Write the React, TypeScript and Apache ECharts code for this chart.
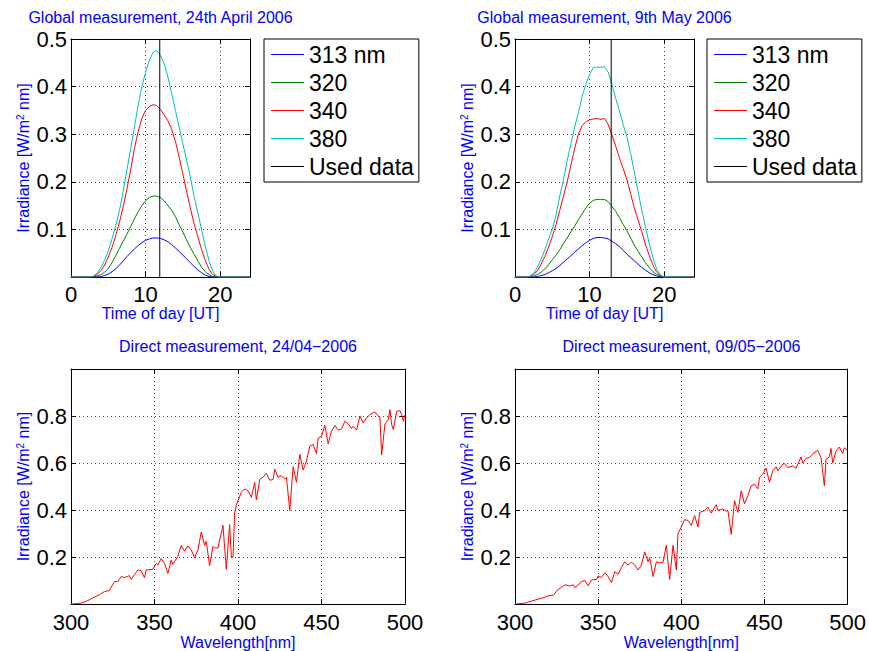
import { useEffect, useRef } from 'react';
import * as echarts from 'echarts';

const FONT = "'Liberation Sans', Arial, Helvetica, sans-serif";

// ---- Global measurement (time of day, hours UT) ----
const hours = [0, 0.5, 1, 1.5, 2, 2.5, 3, 3.5, 4, 4.5, 5, 5.5, 6, 6.5, 7, 7.5, 8, 8.5, 9, 9.5, 10, 10.5, 11, 11.5, 12, 12.5, 13, 13.5, 14, 14.5, 15, 15.5, 16, 16.5, 17, 17.5, 18, 18.5, 19, 19.5, 20, 20.5, 21, 21.5, 22, 22.5, 23, 23.5, 24];

const apr313 = [0, 0, 0, 0, 0, 0, 0, 0, 0.001, 0.003, 0.006, 0.011, 0.017, 0.025, 0.034, 0.043, 0.051, 0.059, 0.066, 0.072, 0.077, 0.08, 0.082, 0.082, 0.081, 0.078, 0.074, 0.068, 0.061, 0.054, 0.046, 0.038, 0.03, 0.022, 0.015, 0.009, 0.004, 0.001, 0, 0, 0, 0, 0, 0, 0, 0, 0, 0, 0];
const apr320 = [0, 0, 0, 0, 0, 0, 0, 0.002, 0.005, 0.01, 0.018, 0.03, 0.045, 0.06, 0.075, 0.09, 0.106, 0.122, 0.137, 0.15, 0.16, 0.167, 0.17, 0.17, 0.167, 0.16, 0.15, 0.14, 0.127, 0.11, 0.094, 0.078, 0.062, 0.048, 0.034, 0.021, 0.011, 0.005, 0.001, 0, 0, 0, 0, 0, 0, 0, 0, 0, 0];
const apr340 = [0, 0, 0, 0, 0, 0, 0.001, 0.005, 0.013, 0.025, 0.042, 0.062, 0.087, 0.115, 0.148, 0.185, 0.225, 0.27, 0.305, 0.333, 0.35, 0.358, 0.362, 0.36, 0.352, 0.34, 0.328, 0.31, 0.285, 0.252, 0.216, 0.18, 0.145, 0.112, 0.085, 0.058, 0.035, 0.016, 0.005, 0.001, 0, 0, 0, 0, 0, 0, 0, 0, 0];
const apr380 = [0, 0, 0, 0, 0, 0, 0.002, 0.008, 0.02, 0.035, 0.055, 0.08, 0.108, 0.14, 0.18, 0.225, 0.27, 0.315, 0.36, 0.4, 0.43, 0.455, 0.472, 0.476, 0.465, 0.448, 0.42, 0.385, 0.35, 0.315, 0.28, 0.245, 0.21, 0.17, 0.135, 0.1, 0.065, 0.035, 0.012, 0.002, 0, 0, 0, 0, 0, 0, 0, 0, 0];

const may313 = [0, 0, 0, 0, 0, 0, 0.001, 0.003, 0.005, 0.009, 0.013, 0.018, 0.024, 0.031, 0.038, 0.045, 0.052, 0.059, 0.066, 0.072, 0.077, 0.081, 0.083, 0.083, 0.082, 0.08, 0.075, 0.07, 0.064, 0.056, 0.048, 0.041, 0.034, 0.027, 0.02, 0.014, 0.009, 0.005, 0.002, 0.001, 0, 0, 0, 0, 0, 0, 0, 0, 0];
const may320 = [0, 0, 0, 0, 0, 0.002, 0.005, 0.01, 0.017, 0.026, 0.036, 0.046, 0.057, 0.07, 0.082, 0.095, 0.107, 0.12, 0.133, 0.145, 0.155, 0.161, 0.163, 0.163, 0.163, 0.158, 0.148, 0.138, 0.125, 0.11, 0.097, 0.082, 0.067, 0.054, 0.042, 0.03, 0.02, 0.011, 0.005, 0.002, 0, 0, 0, 0, 0, 0, 0, 0, 0];
const may340 = [0, 0, 0, 0, 0.001, 0.005, 0.013, 0.027, 0.043, 0.063, 0.085, 0.11, 0.14, 0.17, 0.2, 0.235, 0.27, 0.3, 0.318, 0.326, 0.33, 0.332, 0.333, 0.331, 0.333, 0.32, 0.298, 0.275, 0.25, 0.228, 0.205, 0.175, 0.145, 0.12, 0.095, 0.068, 0.045, 0.025, 0.01, 0.003, 0, 0, 0, 0, 0, 0, 0, 0, 0];
const may380 = [0, 0, 0, 0, 0.002, 0.008, 0.02, 0.038, 0.057, 0.08, 0.1, 0.13, 0.17, 0.205, 0.245, 0.28, 0.315, 0.345, 0.38, 0.405, 0.425, 0.44, 0.441, 0.44, 0.442, 0.43, 0.405, 0.375, 0.35, 0.32, 0.295, 0.26, 0.22, 0.18, 0.14, 0.105, 0.07, 0.04, 0.017, 0.004, 0, 0, 0, 0, 0, 0, 0, 0, 0];

const usedTimeApr = 11.9;
const usedTimeMay = 12.9;

const legendNames = ['313 nm', '320', '340', '380', 'Used data'];
const colors = ['#0000ff', '#008000', '#ff0000', '#00bfbf', '#000000'];

// ---- Direct measurement (wavelength, nm) ----
const aprWl = [300, 306, 310, 317, 320, 323, 326, 328, 330, 332, 335, 336, 340, 342, 344, 345, 349, 351, 352, 354, 356, 358, 360, 361, 364, 366, 368, 370, 372, 374, 376, 378, 380, 381, 383, 385, 386, 388, 391, 393, 395, 396, 397, 398, 399, 400, 402, 404, 406, 408, 410, 411, 413, 415, 417, 419, 421, 422, 424, 426, 428, 429, 431, 433, 435, 437, 439, 441, 443, 445, 447, 448, 450, 452, 454, 456, 458, 460, 462, 464, 466, 468, 469, 471, 473, 475, 477, 479, 482, 485, 486, 488, 490, 491, 492, 493, 495, 497, 498, 499, 500];
const aprIrr = [0, 0.004, 0.015, 0.04, 0.053, 0.058, 0.096, 0.096, 0.117, 0.113, 0.121, 0.105, 0.145, 0.142, 0.112, 0.145, 0.148, 0.173, 0.166, 0.194, 0.173, 0.13, 0.187, 0.169, 0.204, 0.25, 0.225, 0.248, 0.23, 0.198, 0.23, 0.307, 0.25, 0.267, 0.163, 0.246, 0.239, 0.239, 0.335, 0.148, 0.338, 0.2, 0.2, 0.39, 0.42, 0.44, 0.475, 0.49, 0.482, 0.454, 0.518, 0.443, 0.53, 0.54, 0.556, 0.527, 0.53, 0.574, 0.539, 0.546, 0.532, 0.539, 0.398, 0.584, 0.518, 0.637, 0.57, 0.609, 0.672, 0.679, 0.64, 0.705, 0.714, 0.761, 0.682, 0.736, 0.76, 0.74, 0.745, 0.778, 0.767, 0.747, 0.757, 0.74, 0.8, 0.771, 0.792, 0.806, 0.817, 0.792, 0.634, 0.766, 0.785, 0.827, 0.764, 0.742, 0.82, 0.823, 0.806, 0.778, 0.806];

const mayWl = [300, 306, 310, 316, 320, 323, 326, 328, 330, 333, 335, 336, 340, 342, 344, 346, 349, 350, 352, 354, 356, 358, 360, 362, 364, 366, 368, 370, 372, 374, 376, 378, 380, 381, 383, 385, 387, 389, 391, 393, 395, 397, 398, 400, 402, 404, 406, 408, 410, 411, 414, 416, 418, 421, 422, 425, 427, 428, 430, 432, 434, 436, 438, 440, 442, 444, 446, 447, 449, 451, 453, 455, 457, 458, 461, 462, 464, 467, 469, 472, 473, 475, 477, 479, 482, 484, 486, 487, 489, 490, 491, 493, 495, 497, 498, 500];
const mayIrr = [0, 0.004, 0.013, 0.025, 0.035, 0.038, 0.063, 0.072, 0.082, 0.077, 0.082, 0.07, 0.096, 0.1, 0.077, 0.103, 0.105, 0.12, 0.113, 0.134, 0.117, 0.091, 0.138, 0.127, 0.156, 0.18, 0.166, 0.178, 0.166, 0.145, 0.166, 0.222, 0.18, 0.198, 0.117, 0.18, 0.175, 0.177, 0.25, 0.105, 0.25, 0.145, 0.3, 0.328, 0.359, 0.356, 0.335, 0.377, 0.328, 0.39, 0.398, 0.412, 0.387, 0.423, 0.398, 0.405, 0.395, 0.398, 0.297, 0.44, 0.39, 0.482, 0.426, 0.461, 0.503, 0.51, 0.49, 0.539, 0.553, 0.578, 0.518, 0.567, 0.584, 0.567, 0.595, 0.598, 0.581, 0.588, 0.578, 0.626, 0.6, 0.62, 0.623, 0.64, 0.654, 0.623, 0.503, 0.616, 0.626, 0.662, 0.6, 0.651, 0.668, 0.64, 0.665, 0.654];

// ---- tick labels ----
const timeTicks = [0, 10, 20];
const globalIrrTicks = [0.1, 0.2, 0.3, 0.4, 0.5];
const wlTicks = [300, 350, 400, 450, 500];
const directIrrTicks = [0.2, 0.4, 0.6, 0.8];

const titles = [
  'Global measurement, 24th April 2006',
  'Global measurement, 9th May 2006',
  'Direct measurement, 24/04\u22122006',
  'Direct measurement, 09/05\u22122006',
];

const grids = [
  { left: 71, top: 39, width: 179, height: 238 },
  { left: 515, top: 39, width: 179, height: 238 },
  { left: 71, top: 369, width: 334, height: 237 },
  { left: 515, top: 369, width: 333, height: 237 },
];

const tickFmt = (ticks: number[], digits: number) => (v: number) => {
  const t = ticks.find((x) => Math.abs(x - v) < 1e-9);
  return t === undefined ? '' : t.toFixed(digits);
};

const gridLine = { show: true, lineStyle: { color: '#444', width: 1, type: [1, 3] as any } };
const blackLine = { show: true, onZero: false, lineStyle: { color: '#000', width: 1 } };
const inTick = { show: true, inside: true, length: 5, lineStyle: { color: '#000', width: 1 } };

const yName = '{a|Irradiance [W/m}{s|2}{a| nm]}';
const yNameStyle = {
  color: '#0000ff',
  fontFamily: FONT,
  fontSize: 16,
  rich: {
    a: { color: '#0000ff', fontFamily: FONT, fontSize: 16 },
    s: { color: '#0000ff', fontFamily: FONT, fontSize: 10, verticalAlign: 'top' },
  },
};

function makeAxes(i: number, xmin: number, xmax: number, xint: number, xTicks: number[], xDigits: number, xName: string,
  ymax: number, yint: number, yTicks: number[], xMargin: number) {
  const xAxes = [
    {
      type: 'value', gridIndex: i, min: xmin, max: xmax, interval: xint, position: 'bottom',
      axisLine: blackLine, axisTick: inTick, splitLine: gridLine,
      axisLabel: { color: '#000', fontSize: 22, fontFamily: FONT, margin: xMargin, formatter: tickFmt(xTicks, xDigits) },
      name: xName, nameLocation: 'middle', nameGap: 28,
      nameTextStyle: { color: '#0000ff', fontSize: 16, fontFamily: FONT },
    },
    {
      type: 'value', gridIndex: i, min: xmin, max: xmax, interval: xint, position: 'top',
      axisLine: blackLine, axisTick: inTick, splitLine: { show: false }, axisLabel: { show: false },
    },
  ];
  const yAxes = [
    {
      type: 'value', gridIndex: i, min: 0, max: ymax, interval: yint, position: 'left',
      axisLine: blackLine, axisTick: inTick, splitLine: gridLine,
      axisLabel: { color: '#000', fontSize: 22, fontFamily: FONT, margin: 4, formatter: tickFmt(yTicks, 1) },
      name: yName, nameLocation: 'middle', nameGap: 40, nameRotate: 90, nameTextStyle: yNameStyle,
    },
    {
      type: 'value', gridIndex: i, min: 0, max: ymax, interval: yint, position: 'right',
      axisLine: blackLine, axisTick: inTick, splitLine: { show: false }, axisLabel: { show: false },
    },
  ];
  return { xAxes, yAxes };
}

function globalSeries(gi: number, sets: number[][], used: number) {
  const out: any[] = sets.map((vals, k) => ({
    type: 'line', name: legendNames[k], xAxisIndex: gi * 2, yAxisIndex: gi * 2,
    data: hours.map((h, j) => [h, vals[j]]), symbol: 'none', showSymbol: false,
    lineStyle: { color: colors[k], width: 1 }, itemStyle: { color: colors[k] },
  }));
  out.push({
    type: 'line', name: legendNames[4], xAxisIndex: gi * 2, yAxisIndex: gi * 2,
    data: [[used, 0], [used, 0.5]], symbol: 'none', showSymbol: false,
    lineStyle: { color: colors[4], width: 1 }, itemStyle: { color: colors[4] },
  });
  return out;
}

function spectrumSeries(gi: number, wl: number[], irr: number[]) {
  return {
    type: 'line', name: 'spectrum' + gi, xAxisIndex: gi * 2, yAxisIndex: gi * 2,
    data: wl.map((w, j) => [w, irr[j]]), symbol: 'none', showSymbol: false,
    lineStyle: { color: '#ff0000', width: 1 }, itemStyle: { color: '#ff0000' },
  };
}

function legendAt(left: number) {
  return {
    left, top: 39, orient: 'vertical', selectedMode: false,
    data: legendNames.map((n, k) => ({ name: n, icon: 'rect', itemStyle: { color: colors[k] } })),
    borderColor: '#000', borderWidth: 1, backgroundColor: '#fff', borderRadius: 0,
    padding: [3.5, 5, 3.5, 7], itemWidth: 33, itemHeight: 1, itemGap: 4,
    textStyle: { fontSize: 23, color: '#000', fontFamily: FONT, lineHeight: 24 },
  };
}

export default function App() {
  const ref = useRef<HTMLDivElement>(null);
  useEffect(() => {
    if (!ref.current) return;
    const chart = echarts.init(ref.current, undefined, { renderer: 'svg' });
    const a0 = makeAxes(0, 0, 24, 10, timeTicks, 0, 'Time of day [UT]', 0.5, 0.1, globalIrrTicks, 6);
    const a1 = makeAxes(1, 0, 24, 10, timeTicks, 0, 'Time of day [UT]', 0.5, 0.1, globalIrrTicks, 6);
    const a2 = makeAxes(2, 300, 500, 50, wlTicks, 0, 'Wavelength[nm]', 1, 0.2, directIrrTicks, 7);
    const a3 = makeAxes(3, 300, 500, 50, wlTicks, 0, 'Wavelength[nm]', 1, 0.2, directIrrTicks, 7);
    const titleCenters = [
      [160.5, 17], [604.5, 17], [238, 346], [681.5, 346],
    ];
    const option: any = {
      animation: false,
      backgroundColor: '#fff',
      textStyle: { fontFamily: FONT },
      grid: grids.map((g) => ({ ...g, containLabel: false })),
      xAxis: [...a0.xAxes, ...a1.xAxes, ...a2.xAxes, ...a3.xAxes],
      yAxis: [...a0.yAxes, ...a1.yAxes, ...a2.yAxes, ...a3.yAxes],
      legend: [legendAt(264), legendAt(707)],
      graphic: titles.map((t, i) => ({
        type: 'text', x: titleCenters[i][0], y: titleCenters[i][1],
        style: {
          text: t, fill: '#0000ff', fontSize: 16, fontFamily: FONT,
          textAlign: 'center', textVerticalAlign: 'middle', align: 'center', verticalAlign: 'middle',
        },
      })),
      series: [
        ...globalSeries(0, [apr313, apr320, apr340, apr380], usedTimeApr),
        ...globalSeries(1, [may313, may320, may340, may380], usedTimeMay),
        spectrumSeries(2, aprWl, aprIrr),
        spectrumSeries(3, mayWl, mayIrr),
      ],
    };
    chart.setOption(option);
    return () => chart.dispose();
  }, []);
  return <div ref={ref} style={{ position: 'absolute', left: 0, top: 0, width: 869, height: 651 }} />;
}
